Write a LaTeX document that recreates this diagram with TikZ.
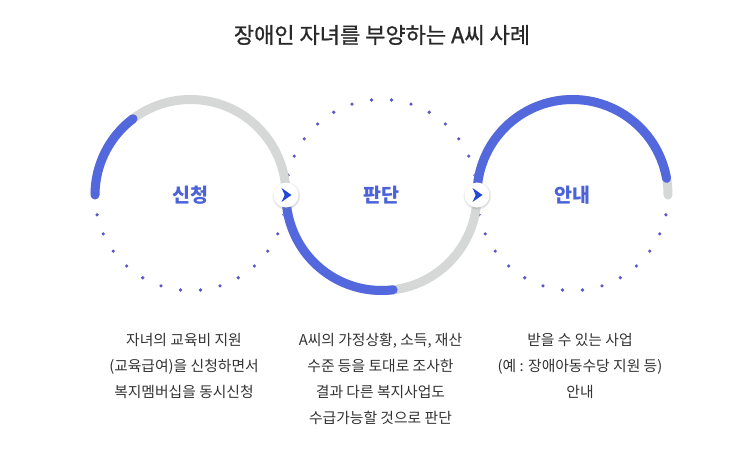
\documentclass[tikz,border=0pt]{standalone}
\usepackage{fontspec}
\setmainfont{Noto Sans CJK KR}
\newfontfamily\titlefont[FakeBold=0.9]{Noto Sans CJK KR}
\usetikzlibrary{shadows}

\definecolor{arcblue}{HTML}{5468DE}
\definecolor{arcgray}{HTML}{D6D8D7}
\definecolor{dotblue}{HTML}{5B57C9}
\definecolor{tipblue}{HTML}{2447D6}
\definecolor{labelblue}{HTML}{4B62D9}
\definecolor{textgray}{HTML}{333333}

\tikzset{
    ring/.style={line width=9pt, line cap=round},
    steplabel/.style={text=labelblue, font=\fontsize{19.5}{22}\selectfont\bfseries},
    steptext/.style={text=textgray, align=center, anchor=north, inner sep=0pt,
        font=\fontsize{14.8}{26}\selectfont},
    junction/.style={circle, fill=white, minimum size=25pt, inner sep=0pt,
        circular drop shadow={shadow xshift=0pt, shadow yshift=-0.5pt, shadow scale=1.15, opacity=0.25}}
}

\begin{document}
\begin{tikzpicture}[x=1pt, y=1pt]
    \useasboundingbox[fill=white] (0,0) rectangle (742,-449);

    % title
    \node[text=textgray!80!black, font=\fontsize{22}{24}\selectfont\titlefont] (title) at (382,-35) {장애인 자녀를 부양하는 A씨 사례};

    \coordinate (c1) at (190.5,-195);
    \coordinate (c2) at (381.5,-195);
    \coordinate (c3) at (572.5,-195);

    % dotted halves
    \foreach \a in {192,204,...,348} {
        \fill[dotblue] (c1) ++(\a:95.5) circle (1.8);
        \fill[dotblue] (c3) ++(\a:95.5) circle (1.8);
    }
    \foreach \a in {12,24,...,168}
        \fill[dotblue] (c2) ++(\a:95.5) circle (1.8);

    % rings
    \draw[ring, arcgray] (c1) ++(0:95.5) arc[start angle=0, end angle=180, radius=95.5];
    \draw[ring, arcblue] (c1) ++(180:95.5) arc[start angle=180, end angle=127, radius=95.5];
    \draw[ring, arcgray] (c2) ++(180:95.5) arc[start angle=180, end angle=360, radius=95.5];
    \draw[ring, arcblue] (c2) ++(180:95.5) arc[start angle=180, end angle=277, radius=95.5];
    \draw[ring, arcgray] (c3) ++(0:95.5) arc[start angle=0, end angle=180, radius=95.5];
    \draw[ring, arcblue] (c3) ++(180:95.5) arc[start angle=180, end angle=10, radius=95.5];

    % junction markers
    \node[junction] (j1) at (286,-195) {};
    \node[junction] (j2) at (477,-195) {};
    \foreach \j in {j1,j2}
        \fill[tipblue] (\j.center) ++(5.5,0) -- ++(-10,7) -- ++(3.2,-7) -- ++(-3.2,-7) -- cycle;

    % step names
    \node[steplabel] (apply) at (c1) {신청};
    \node[steplabel] (judge) at (c2) {판단};
    \node[steplabel] (guide) at (c3) {안내};

    % descriptions
    \node[steptext] (applytext) at (184,-333) {자녀의 교육비 지원\\(교육급여)을 신청하면서\\복지멤버십을 동시신청};
    \node[steptext] (judgetext) at (380.5,-333) {A씨의 가정상황, 소득, 재산\\수준 등을 토대로 조사한\\결과 다른 복지사업도\\수급가능할 것으로 판단};
    \node[steptext] (guidetext) at (580,-333) {받을 수 있는 사업\\(예 : 장애아동수당 지원 등)\\안내};
\end{tikzpicture}
\end{document}
